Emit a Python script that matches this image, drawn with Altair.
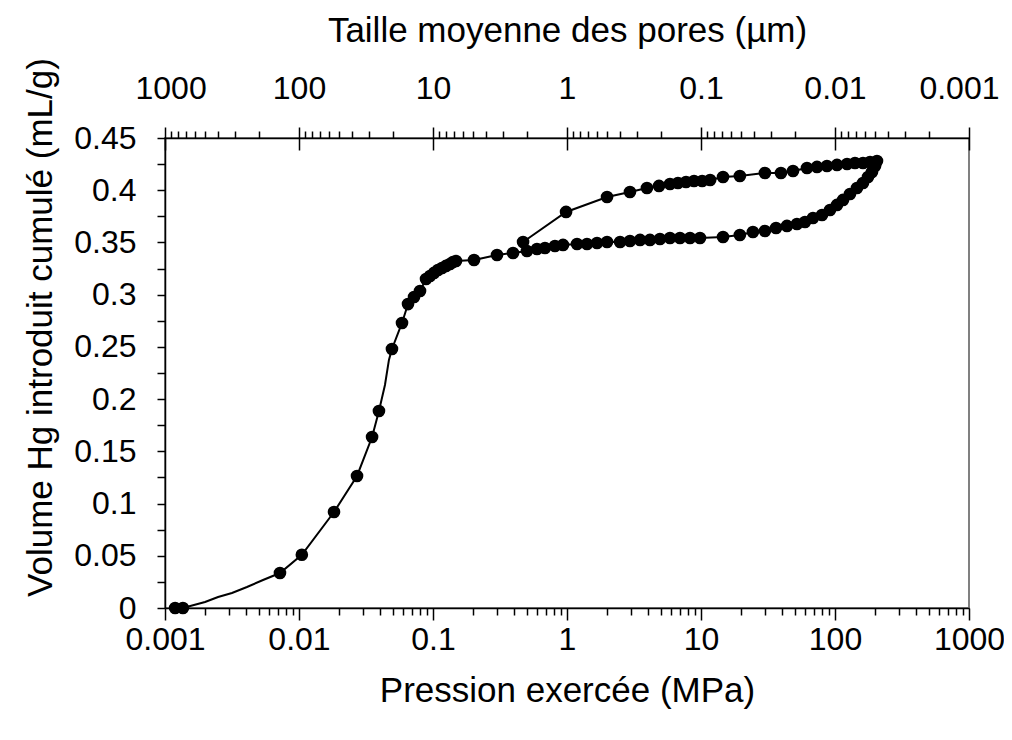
import altair as alt
import pandas as pd

# Pression exercée (MPa) — intrusion puis extrusion, dans l'ordre du tracé
pression = [
    0.00119, 0.00136, 0.00199, 0.00249, 0.00316, 0.00409, 0.00539, 0.00721,
    0.0105, 0.01825, 0.0271, 0.0351, 0.0395, 0.0438, 0.0469, 0.0494, 0.0587,
    0.0651, 0.0722, 0.080, 0.0887, 0.095, 0.1017, 0.1089, 0.1167, 0.125,
    0.1339, 0.141, 0.1485, 0.2024, 0.3004, 0.3955, 0.5026, 0.597, 0.685,
    0.813, 0.934, 1.188, 1.41, 1.675, 1.99, 2.49, 2.95, 3.51, 4.16, 4.94,
    5.87, 6.97, 8.28, 9.83, 14.6, 19.5, 24.4, 30.0, 36.3, 43.8, 52.0, 59.7,
    68.5, 80.0, 91.8, 103.5, 114.8, 129.4, 145.9, 161.8, 176.3, 188.8, 199.0,
    205.7,
    # extrusion
    182.5, 161.8, 141.0, 123.0, 103.5, 87.1, 73.4, 61.8, 48.6, 39.5, 30.0,
    19.5, 14.6, 11.7, 10.2, 8.87, 7.73, 6.73, 5.87, 4.86, 3.95, 2.95, 1.99,
    0.984, 0.470,
]
# Volume Hg introduit cumulé (mL/g)
volume = [
    0.0, 0.0, 0.0057, 0.0105, 0.0144, 0.0201, 0.0268, 0.0335,
    0.0510, 0.0919, 0.1264, 0.1637, 0.1886, 0.2135, 0.2375, 0.248, 0.2729,
    0.291, 0.2978, 0.3035, 0.315, 0.3179, 0.3208, 0.3236, 0.3255, 0.3275,
    0.3294, 0.3313, 0.3322, 0.3332, 0.338, 0.3399, 0.3418, 0.3437, 0.3447,
    0.3466, 0.3476, 0.3485, 0.3485, 0.3495, 0.3504, 0.3504, 0.3514, 0.3524,
    0.3524, 0.3533, 0.3543, 0.3543, 0.3543, 0.3543, 0.3552, 0.3571, 0.360,
    0.361, 0.3638, 0.3658, 0.3677, 0.3696, 0.3734, 0.3763, 0.3811, 0.3859,
    0.3907, 0.3964, 0.4021, 0.4069, 0.4127, 0.4175, 0.4232, 0.428,
    # extrusion
    0.427, 0.4261, 0.4261, 0.4251, 0.4242, 0.4232, 0.4223, 0.4213, 0.4184,
    0.4165, 0.4165, 0.4136, 0.4127, 0.4098, 0.4088, 0.4088, 0.4079, 0.4069,
    0.406, 0.4041, 0.4021, 0.3983, 0.3935, 0.3792, 0.3504,
]
# 1 = point marqué, 0 = sommet de ligne sans marqueur
marqueur = [
    1, 1, 0, 0, 0, 0, 0, 1,
    1, 1, 1, 1, 1, 0, 0, 1, 1,
    1, 1, 1, 1, 1, 1, 1, 1, 1,
    1, 1, 1, 1, 1, 1, 1, 1, 1,
    1, 1, 1, 1, 1, 1, 1, 1, 1, 1, 1,
    1, 1, 1, 1, 1, 1, 1, 1, 1, 1, 1, 1,
    1, 1, 1, 1, 1, 1, 1, 1, 1, 1, 1,
    1,
    1, 1, 1, 1, 1, 1, 1, 1, 1, 1, 1,
    1, 1, 1, 1, 1, 1, 1, 1, 1, 1, 1, 1,
    1, 1,
]

x_major = [0.001, 0.01, 0.1, 1, 10, 100, 1000]
y_ticks = [0, 0.025, 0.05, 0.075, 0.1, 0.125, 0.15, 0.175, 0.2, 0.225, 0.25,
           0.275, 0.3, 0.325, 0.35, 0.375, 0.4, 0.425, 0.45]
decades = [0.001, 0.01, 0.1, 1, 10, 100]
x_minor = [k * d for d in decades for k in range(2, 10)]
# minor ticks of the pore-size axis (size = 1 / pressure)
top_minor = [1.0 / (k * d) for d in decades for k in range(2, 10)]

df = pd.DataFrame({"i": list(range(len(pression))), "P": pression,
                   "V": volume, "m": marqueur})

FONT = "Liberation Sans"
FS = 32
TFS = 35
xs = alt.Scale(type="log", domain=[0.001, 1000], nice=False)
ys = alt.Scale(domain=[0, 0.45], nice=False, zero=False)

base = alt.Chart(df)

line = base.mark_line(color="black", strokeWidth=2).encode(
    x=alt.X("P:Q", scale=xs, axis=alt.Axis(
        orient="bottom", values=x_major, format="~g", tickSize=12,
        labelPadding=4, labelFlush=False, labelOverlap=False,
        title="Pression exercée (MPa)", titleY=82, titleX=402,
        titleBaseline="middle", titleAlign="center")),
    y=alt.Y("V:Q", scale=ys, axis=alt.Axis(
        orient="left", values=y_ticks, tickSize=8, labelPadding=21,
        labelOverlap=False, labelFlush=False,
        labelExpr="(round(datum.value*1000) % 50 == 0) ? format(datum.value, '.2~f') : ''",
        title="Volume Hg introduit cumulé (mL/g)", titleX=-125, titleY=189,
        titleBaseline="middle", titleAlign="center", titleAngle=270)),
    order="i:Q",
)

points = base.transform_filter("datum.m == 1").mark_circle(
    size=160, color="black", opacity=1).encode(
    x=alt.X("P:Q", scale=xs, axis=alt.Axis(
        orient="bottom", values=x_minor, tickSize=7, labels=False,
        domain=False, title=None)),
    y=alt.Y("V:Q", scale=ys, axis=None),
)

top_cross = base.mark_point(opacity=0, size=1).encode(
    x=alt.X("P:Q", scale=xs, axis=alt.Axis(
        orient="top", values=x_major, offset=-12, tickSize=23, labels=False,
        domain=False, title=None)),
    y=alt.Y("V:Q", scale=ys, axis=None),
)

top_minor_ax = base.mark_point(opacity=0, size=1).encode(
    x=alt.X("P:Q", scale=xs, axis=alt.Axis(
        orient="top", values=top_minor, tickSize=7, labels=False,
        domain=True, title=None)),
    y=alt.Y("V:Q", scale=ys, axis=None),
)

top_labels = base.mark_point(opacity=0, size=1).encode(
    x=alt.X("P:Q", scale=xs, axis=alt.Axis(
        orient="top", values=x_major, ticks=False, domain=False,
        labelPadding=33, labelFlush=True, labelFlushOffset=30,
        labelOverlap=False,
        labelExpr="format(1/datum.value, '~g')",
        title="Taille moyenne des pores (µm)", titleY=-108, titleX=402,
        titleBaseline="middle", titleAlign="center")),
    y=alt.Y("V:Q", scale=ys, axis=None),
)

chart = alt.layer(line, points, top_cross, top_minor_ax, top_labels).resolve_axis(
    x="independent", y="independent"
).properties(
    width=804, height=470,
    autosize=alt.AutoSizeParams(type="none"),
    padding={"left": 157, "top": 130, "right": 35, "bottom": 124},
).configure_view(
    stroke="#808080", strokeWidth=2
).configure_axis(
    labelFont=FONT, labelFontSize=FS, labelColor="black",
    titleFont=FONT, titleFontSize=TFS, titleColor="black", titleFontWeight="normal",
    domainColor="black", domainWidth=1.5, tickColor="black", tickWidth=1.5,
    grid=False,
)

chart.save("out.html", embed_options={"renderer": "svg", "actions": False})
